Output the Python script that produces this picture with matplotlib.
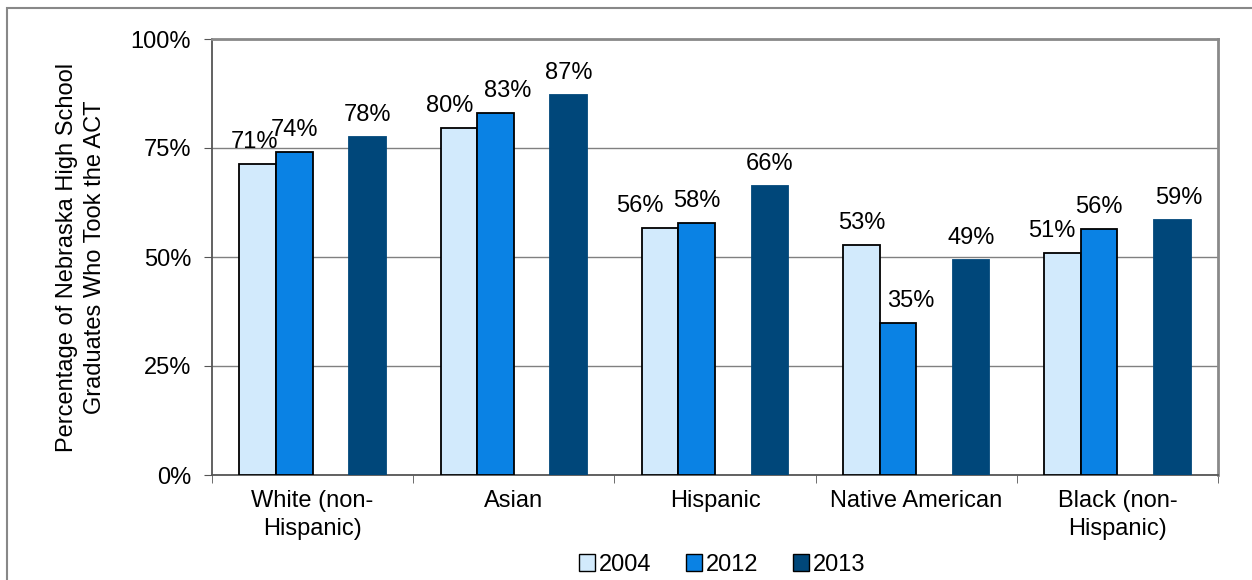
import matplotlib
matplotlib.use("Agg")
import matplotlib.pyplot as plt
from matplotlib.patches import Rectangle
import numpy as np

plt.rcParams['font.family'] = ['Liberation Sans', 'DejaVu Sans']

categories = ["White (non-\nHispanic)", "Asian", "Hispanic", "Native American", "Black (non-\nHispanic)"]
years = ["2004", "2012", "2013"]
v2004 = [71.4, 79.6, 56.7, 52.8, 50.9]
v2012 = [74.1, 83.0, 57.8, 34.9, 56.4]
v2013 = [77.5, 87.2, 66.3, 49.3, 58.5]
labels2004 = ["71%", "80%", "56%", "53%", "51%"]
labels2012 = ["74%", "83%", "58%", "35%", "56%"]
labels2013 = ["78%", "87%", "66%", "49%", "59%"]
yticks = [0, 25, 50, 75, 100]
ytick_labels = ["0%", "25%", "50%", "75%", "100%"]

# horizontal nudges of data labels (pixels), as placed in the reference
label_nudge = {(0, 0): -3, (0, 1): -9, (0, 2): -20, (0, 4): -11,
               (1, 1): 12, (1, 3): 13, (2, 4): 7}

colors = ["#D2EAFC", "#0A82E4", "#00477A"]
edges = ["black", "black", "#00477A"]
FS = 17

W, H = 1252, 580
fig = plt.figure(figsize=(W / 100, H / 100), dpi=100)
ax = fig.add_axes([212 / W, 1 - 475 / H, (1218 - 212) / W, (475 - 39) / H])

# outer frame
fig.patches.append(Rectangle((7 / W, -0.05), 1.1, (H - 8) / H + 0.05, transform=fig.transFigure,
                             fill=False, edgecolor="#888888", linewidth=1.5))

n = len(categories)
x = np.arange(n)
bw = 1 / 5.5  # 4 slots + 1.5 gap
offsets = [-1.5 * bw, -0.5 * bw, 1.5 * bw]
series = [v2004, v2012, v2013]
lab = [labels2004, labels2012, labels2013]
for i in range(3):
    bars = ax.bar(x + offsets[i], series[i], width=bw, color=colors[i], edgecolor=edges[i],
                  linewidth=1.3, zorder=3, label=years[i])
    for j, (b, t) in enumerate(zip(bars, lab[i])):
        dx = label_nudge.get((i, j), 0) * 0.72
        ax.annotate(t, (b.get_x() + b.get_width() / 2, b.get_height()), xytext=(dx, 11.5),
                    textcoords="offset points", ha="center", va="baseline", fontsize=FS, zorder=4)

ax.set_xlim(-0.5, n - 0.5)
ax.set_ylim(0, 100)
ax.set_yticks(yticks)
ax.set_yticklabels(ytick_labels, fontsize=FS)
ax.yaxis.grid(True, color="#808080", linewidth=1.0, zorder=0)
ax.set_xticks(x)
ax.set_xticklabels(categories, fontsize=FS, linespacing=1.35)
ax.set_xticks(np.arange(n + 1) - 0.5, minor=True)
ax.tick_params(axis="x", which="major", length=0, pad=11)
ax.tick_params(axis="x", which="minor", length=6, direction="out", color="#555555")
ax.tick_params(axis="y", length=6, direction="out", color="#555555", pad=9)
for s in ["top", "right"]:
    ax.spines[s].set_color("#8A8A8A")
    ax.spines[s].set_linewidth(2.0)
for s in ["left", "bottom"]:
    ax.spines[s].set_color("#555555")
    ax.spines[s].set_linewidth(1.3)

ax.set_ylabel("Percentage of Nebraska High School\nGraduates Who Took the ACT", fontsize=FS,
              labelpad=18, linespacing=1.35)

leg = ax.legend(loc="center", bbox_to_anchor=(722 / W, 1 - 565 / H), bbox_transform=fig.transFigure,
                ncol=3, frameon=False, fontsize=FS, handlelength=0.7, handleheight=0.7,
                handletextpad=0.15, columnspacing=1.45, borderpad=0)
for h in leg.legend_handles:
    h.set_edgecolor("black")
    h.set_linewidth(1.0)

fig.savefig("out.png", dpi=100)
